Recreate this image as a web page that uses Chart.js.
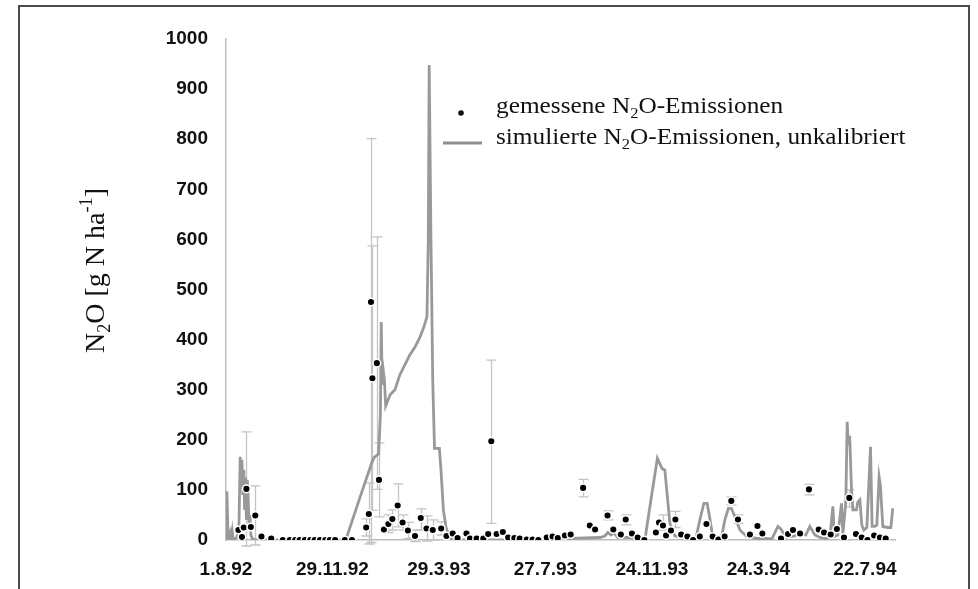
<!DOCTYPE html>
<html>
<head>
<meta charset="utf-8">
<script src="https://cdn.jsdelivr.net/npm/chart.js@4.4.1/dist/chart.umd.min.js"></script>
<style>
html,body{margin:0;padding:0;background:#fff;}
canvas{display:block;}
</style>
</head>
<body>
<canvas id="c" width="978" height="589"></canvas>
<script>
// ---- x axis: days since 1.8.92 ----
const tickDays   = [0, 120, 240, 360, 480, 600, 720];
const tickLabels = ['1.8.92', '29.11.92', '29.3.93', '27.7.93', '24.11.93', '24.3.94', '22.7.94'];
const yTicks     = [0, 100, 200, 300, 400, 500, 600, 700, 800, 900, 1000];

// ---- measured N2O emissions (dots) ----
const measDays = [14, 18, 20, 23, 28, 33, 40, 51, 64, 72, 78, 83, 89, 95, 100, 106, 112, 117, 123, 134, 142,
  158, 161, 163.4, 165, 170, 172.4, 178, 183, 187.5, 193.5, 199, 205, 213, 219.5, 226, 233, 242.5, 248.5,
  255.5, 261, 271, 275, 282.5, 290, 295.5, 299, 305, 312, 318, 325, 331, 339, 345.5, 352, 361.5, 368, 374,
  382, 388.5, 402.5, 410, 416, 430, 436.5, 445, 450.5, 457.5, 464, 471.5, 484.5, 488, 492.5, 496, 501.5,
  506.5, 513, 520, 526.5, 534, 541.5, 548.5, 555, 562, 569.5, 577, 590.5, 599, 604.5, 625.5, 633.5, 639,
  647, 657, 668, 674, 681.5, 688.5, 696.5, 702.5, 710, 716.5, 723, 730.5, 737, 743.5];
const measValues = [20, 6, 25, 102, 26, 49, 7, 3, 0, 0, 0, 0, 0, 0, 0, 0, 0, 0, 0, 0, 0,
  25, 52, 475, 323, 353, 120, 21, 32, 42, 69, 35, 19, 8, 44, 23, 20, 23, 8,
  13, 4, 13, 3, 3, 3, 12, 197, 12, 16, 5, 4, 3, 1, 1, 0, 5, 7, 4,
  9, 11, 104, 29, 21, 49, 21, 11, 41, 13, 5, 0, 15, 35, 29, 9, 19,
  41, 11, 7, 0, 7, 32, 7, 1, 7, 78, 41, 11, 28, 13, 3, 12, 20,
  13, 101, 21, 15, 11, 22, 5, 84, 12, 5, 0, 9, 5, 3];

// ---- error bars of the measurements ----
const errDays = [23, 33, 158, 161, 163.4, 165, 170, 172.4, 183, 187.5, 193.5, 199, 205, 213, 219.5, 226, 233, 242.5,
  299, 402.5, 430, 450.5, 492.5, 506.5, 569.5, 577, 657, 702.5];
const errLow  = [-12, -10, 8, -8, -5, 59, 101, 46, 15, 20, 26, 20, 3, -3, 20, -2, 0, 10,
  33, 86, 40, 30, 20, 25, 70, 33, 90, 66];
const errHigh = [216, 108, 42, 114, 801, 587, 605, 194, 50, 60, 112, 50, 35, 20, 62, 48, 40, 36,
  359, 121, 58, 50, 50, 57, 86, 50, 111, 100];

// ---- simulated N2O emissions (line) ----
const simDays = [0, 1, 2, 3, 5, 6, 7, 8, 10, 12, 14.5, 16, 17, 18, 19, 20, 21, 22, 23, 24, 25, 26, 27, 28, 30, 34,
  134, 135, 151, 164.5, 167, 172, 174, 175, 176, 177.5, 178.5, 180, 185, 190.4, 196, 201.7, 207.3, 213, 218.6,
  223, 226.5, 228, 229, 231, 233, 235, 240.5, 242.3, 245, 248, 251.3, 255,
  374, 378.6, 387.6, 421.4, 427, 430.4, 433.8, 437.2, 441.7, 459.7, 472.1, 478.9, 486.2, 489, 491.8, 494.6,
  500.3, 505.9, 529.6, 534, 538.6, 542.3, 545.6, 548.5, 556.6, 558.9, 562.3, 566.2, 569.6, 573.5, 579.2,
  587, 598.3, 607.3, 615.2, 622, 625.4, 631, 641.1, 646.8, 653.5, 658, 663.7, 669.3, 676, 680.6, 684,
  685.6, 689.6, 693.7, 695.2, 698.6, 700.1, 701.4, 702.9, 705, 706.5, 710.6, 712, 714.4, 716.6, 718.9,
  722.3, 726.4, 728.2, 731.3, 733.5, 736.1, 737.5, 740.3, 745.9, 749.3, 751.5];
const simValues = [3, 97, 30, 3, 15, 5, 18, 3, 2, 5, 20, 166, 110, 160, 90, 140, 60, 125, 40, 120, 85, 30, 50, 10, 2, 0,
  0, 0, 85, 155, 165, 172, 250, 435, 310, 335, 320, 268, 290, 300, 330, 350, 370, 385, 405,
  425, 446, 600, 948, 600, 320, 183, 183, 140, 60, 25, 8, 0,
  0, 3, 3, 5, 8, 15, 10, 14, 5, 5, 0, 80, 163, 152, 142, 140,
  33, 8, 3, 40, 73, 73, 40, 7, 7, 10, 40, 63, 63, 47, 20,
  7, 3, 3, 2, 27, 22, 5, 8, 15, 10, 27, 10, 5, 3, 5, 67,
  7, 10, 73, 10, 77, 236, 190, 208, 100, 60, 60, 75, 80, 30, 20,
  25, 186, 27, 27, 30, 126, 110, 27, 25, 25, 63];

const toXY = (xs, ys) => xs.map((x, i) => ({ x: x, y: ys[i] }));

const errorBarPlugin = {
  id: 'errorBars',
  beforeDatasetsDraw(chart) {
    const ctx = chart.ctx, xs = chart.scales.x, ys = chart.scales.y;
    ctx.save();
    ctx.strokeStyle = '#c4c4c4';
    ctx.lineWidth = 1.3;
    errDays.forEach((d, i) => {
      const px = Math.round(xs.getPixelForValue(d)) + 0.5;
      const y1 = ys.getPixelForValue(errLow[i]);
      const y2 = ys.getPixelForValue(errHigh[i]);
      ctx.beginPath();
      ctx.moveTo(px, y1); ctx.lineTo(px, y2);
      ctx.moveTo(px - 5, y1); ctx.lineTo(px + 5, y1);
      ctx.moveTo(px - 5, y2); ctx.lineTo(px + 5, y2);
      ctx.stroke();
    });
    ctx.restore();
  }
};

function drawRich(ctx, parts, x, y, size, family, sx) {
  ctx.save();
  ctx.translate(x, y);
  ctx.scale(sx, 1);
  let cx = 0;
  ctx.textBaseline = 'alphabetic';
  ctx.textAlign = 'left';
  parts.forEach(p => {
    let s = size, dy = 0;
    if (p.m === 'sub') { s = size * 0.65; dy = size * 0.22; }
    if (p.m === 'sup') { s = size * 0.65; dy = -size * 0.42; }
    ctx.font = s + 'px ' + family;
    ctx.fillText(p.t, cx, dy);
    cx += ctx.measureText(p.t).width;
  });
  ctx.restore();
  return cx * sx;
}

const decoPlugin = {
  id: 'deco',
  afterDraw(chart) {
    const ctx = chart.ctx;
    ctx.save();
    // frame
    ctx.strokeStyle = '#4a4a4a';
    ctx.lineWidth = 2;
    ctx.beginPath();
    ctx.moveTo(19, 589); ctx.lineTo(19, 6); ctx.lineTo(969, 6); ctx.lineTo(969, 589);
    ctx.stroke();
    ctx.fillStyle = '#111';
    const serif = '"Liberation Serif", "Times New Roman", serif';
    // legend
    ctx.beginPath();
    ctx.arc(461, 113, 2.8, 0, Math.PI * 2);
    ctx.fill();
    drawRich(ctx, [{t: 'gemessene N'}, {t: '2', m: 'sub'}, {t: 'O-Emissionen'}], 496, 113, 23, serif, 1.1);
    ctx.strokeStyle = '#8f8f8f';
    ctx.lineWidth = 3;
    ctx.beginPath();
    ctx.moveTo(443, 143); ctx.lineTo(482, 143);
    ctx.stroke();
    drawRich(ctx, [{t: 'simulierte N'}, {t: '2', m: 'sub'}, {t: 'O-Emissionen, unkalibriert'}], 496, 144, 23, serif, 1.1);
    // y axis title (centred on the plot height)
    ctx.save();
    ctx.translate(104, 353);
    ctx.rotate(-Math.PI / 2);
    drawRich(ctx, [{t: 'N'}, {t: '2', m: 'sub'}, {t: 'O [g N ha'}, {t: '-1', m: 'sup'}, {t: ']'}], 0, 0, 28, serif, 1);
    ctx.restore();
    ctx.restore();
  }
};

new Chart(document.getElementById('c'), {
  type: 'line',
  data: {
    datasets: [
      {
        label: 'gemessene N2O-Emissionen',
        data: toXY(measDays, measValues),
        showLine: false,
        pointRadius: 3.8,
        pointBackgroundColor: '#000',
        pointBorderColor: '#fff',
        pointBorderWidth: 1.5
      },
      {
        label: 'simulierte N2O-Emissionen, unkalibriert',
        data: toXY(simDays, simValues),
        borderColor: '#999',
        borderWidth: 2.8,
        pointRadius: 0,
        tension: 0,
        fill: false
      }
    ]
  },
  options: {
    responsive: false,
    animation: false,
    devicePixelRatio: 1,
    layout: { padding: { left: 20, top: 39, right: 83, bottom: 0 } },
    plugins: { legend: { display: false }, tooltip: { enabled: false } },
    scales: {
      x: {
        type: 'linear',
        min: 0,
        max: 754,
        afterBuildTicks: (s) => { s.ticks = tickDays.map(v => ({ value: v })); },
        afterFit: (s) => { s.height = 49; },
        grid: { display: false, drawTicks: false },
        border: { color: '#bdbdbd', width: 1.5 },
        ticks: {
          autoSkip: false,
          maxRotation: 0,
          padding: 18,
          color: '#111',
          font: { family: '"Liberation Sans", Arial, sans-serif', size: 19, weight: 'bold' },
          callback: (v) => tickLabels[tickDays.indexOf(v)]
        }
      },
      y: {
        min: 0,
        max: 1000,
        afterBuildTicks: (s) => { s.ticks = yTicks.map(v => ({ value: v })); },
        afterFit: (s) => { s.width = 206; },
        grid: { display: false, drawTicks: true, tickLength: 5, tickColor: '#bdbdbd' },
        border: { color: '#bdbdbd', width: 1.5 },
        ticks: {
          padding: 13,
          color: '#111',
          font: { family: '"Liberation Sans", Arial, sans-serif', size: 19, weight: 'bold' },
          callback: (v) => String(v)
        }
      }
    }
  },
  plugins: [errorBarPlugin, decoPlugin]
});
</script>
</body>
</html>
